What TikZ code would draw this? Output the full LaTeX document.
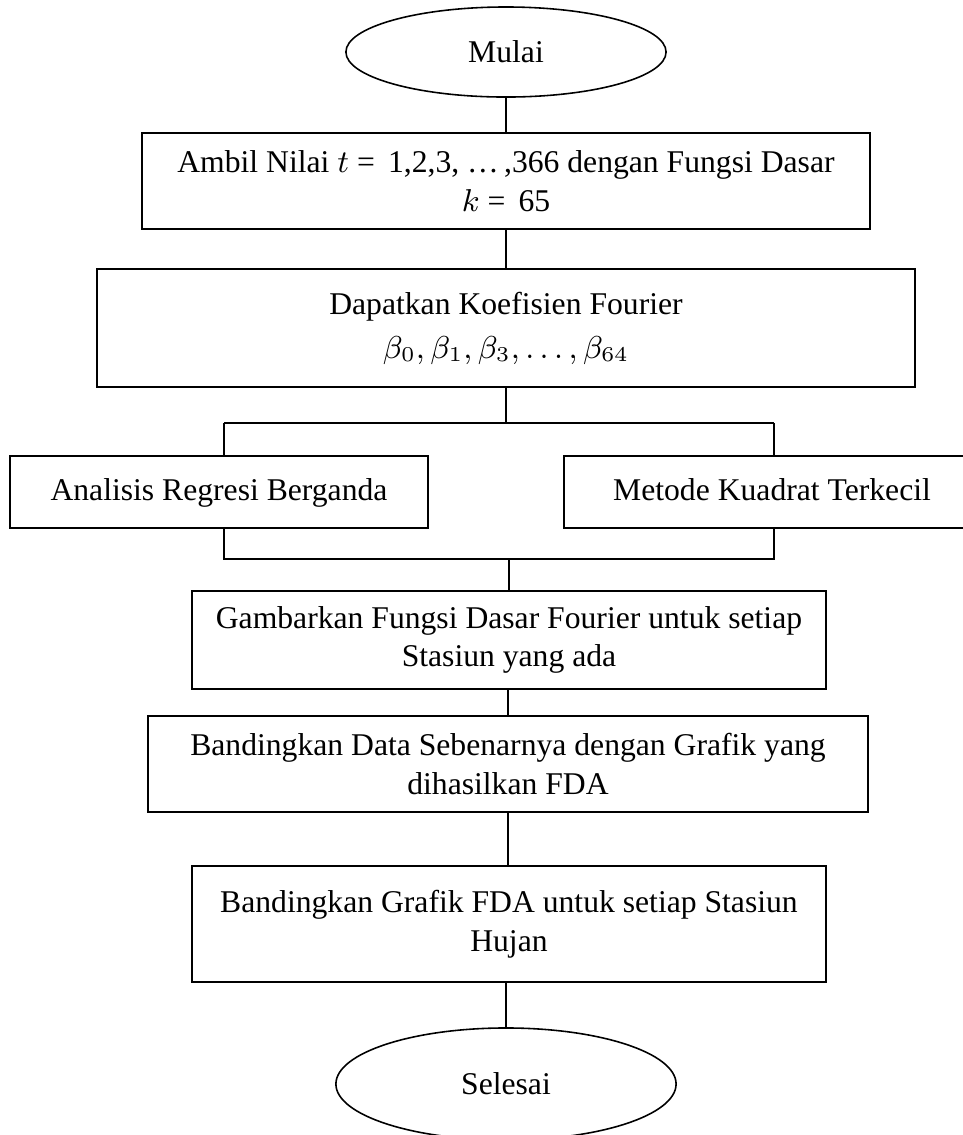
\documentclass[tikz,border=0pt]{standalone}
\usepackage{amsmath}
\usepackage{fontspec}
\setmainfont{Liberation Serif}
\usepackage{tikz}
\usetikzlibrary{shapes.geometric,positioning}

\begin{document}
\begin{tikzpicture}[x=0.01cm,y=-0.01cm,font=\fontsize{9}{11}\selectfont,line width=0.45pt,
  box/.style={draw,rectangle,align=center,inner sep=0pt},
  term/.style={draw,ellipse,inner sep=0pt}]
\useasboundingbox (0,0) rectangle (963,1135);
\clip (0,0) rectangle (963,1135);
\node[term,minimum width=3.2cm,minimum height=0.9cm] (mulai) at (506,52) {Mulai};
\node[box,minimum width=7.28cm,minimum height=0.96cm] (ambil) at (506,181)
  {Ambil Nilai $t$ = \,1,2,3, \ldots\,,366 dengan Fungsi Dasar\\$k$ = \,65};
\node[box,minimum width=8.18cm,minimum height=1.18cm] (koef) at (506,328)
  {Dapatkan Koefisien Fourier\\[1.5pt]$\beta_0, \beta_1, \beta_3, \ldots, \beta_{64}$};
\node[box,minimum width=4.18cm,minimum height=0.72cm,text height=1.6ex,text depth=0.5ex] (regresi) at (219,492) {Analisis Regresi Berganda};
\node[box,minimum width=4.16cm,minimum height=0.72cm,text height=1.6ex,text depth=0.5ex] (kuadrat) at (772,492) {Metode Kuadrat Terkecil};
\node[box,minimum width=6.34cm,minimum height=0.98cm] (fungsi) at (509,640)
  {Gambarkan Fungsi Dasar Fourier untuk setiap\\Stasiun yang ada};
\node[box,minimum width=7.2cm,minimum height=0.96cm] (data) at (508,764)
  {Bandingkan Data Sebenarnya dengan Grafik yang\\dihasilkan FDA};
\node[box,minimum width=6.34cm,minimum height=1.16cm] (grafik) at (509,924)
  {Bandingkan Grafik FDA untuk setiap Stasiun\\Hujan};
\node[term,minimum width=3.4cm,minimum height=1.12cm] (selesai) at (506,1084) {Selesai};
\coordinate (bagiA) at (224,423);
\coordinate (bagiB) at (774,423);
\coordinate (gabungA) at (224,559);
\coordinate (gabungB) at (774,559);
\draw (mulai) -- (ambil);
\draw (ambil) -- (koef);
\draw (koef.south) -- (koef.south |- bagiA);
\draw (bagiA) -- (bagiB);
\draw (bagiA) -- (bagiA |- regresi.north);
\draw (bagiB) -- (bagiB |- kuadrat.north);
\draw (gabungA |- regresi.south) -- (gabungA) -- (gabungB) -- (gabungB |- kuadrat.south);
\draw (fungsi.north |- gabungA) -- (fungsi.north);
\draw (fungsi.south -| data.north) -- (data.north);
\draw (data.south) -- (data.south |- grafik.north);
\draw (grafik.south -| selesai.north) -- (selesai.north);
\end{tikzpicture}
\end{document}
